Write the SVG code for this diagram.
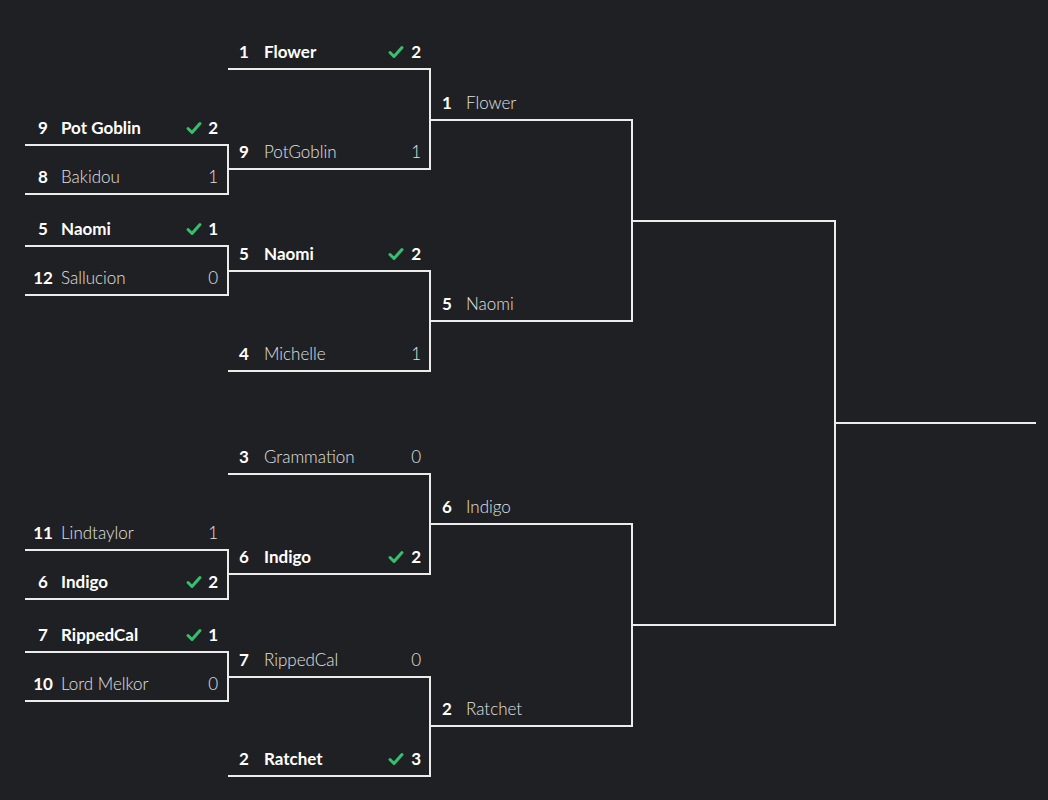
<svg xmlns="http://www.w3.org/2000/svg" width="1048" height="800" viewBox="0 0 1048 800">
<style>
.bg{fill:#1f2023}
.ln{fill:none;stroke:#ececec;stroke-width:2}
text{font-family:Lato,"Noto Sans","Liberation Sans",sans-serif;font-size:17px}
.sd{fill:#ffffff;font-weight:700;text-anchor:middle}
.w{fill:#ffffff;font-weight:700}
.l{fill:#e0e0e0;font-weight:300}
.sw{fill:#ffffff;font-weight:700;text-anchor:end}
.sl{fill:#e0e0e0;font-weight:300;text-anchor:end}
.ck{fill:none;stroke:#35c06f;stroke-width:3;stroke-linecap:round;stroke-linejoin:round}
</style>
<defs>
<path id="chk" class="ck" d="M0 0.5 L4 4.5 L12 -4.5"/>
</defs>
<rect class="bg" x="0" y="0" width="1048" height="800"/>
<g id="connectors">
<path class="ln" d="M25 145 H228 V194 H25"/>
<path class="ln" d="M25 246 H228 V295 H25"/>
<path class="ln" d="M25 550 H228 V599 H25"/>
<path class="ln" d="M25 652 H228 V701 H25"/>
<path class="ln" d="M228 69 H430 V169 H228"/>
<path class="ln" d="M228 271 H430 V371 H228"/>
<path class="ln" d="M228 474 H430 V574 H228"/>
<path class="ln" d="M228 677 H430 V776 H228"/>
<path class="ln" d="M430 120 H632 V321 H430"/>
<path class="ln" d="M430 524 H632 V726 H430"/>
<path class="ln" d="M632 221 H835 V625 H632"/>
<path class="ln" d="M835 423 H1036"/>
</g>
<g id="r1-potgoblin"><text class="sd" x="43" y="134">9</text><text class="w" x="61" y="134">Pot Goblin</text><use href="#chk" x="188" y="128"/><text class="sw" x="218" y="134">2</text></g>
<g id="r1-bakidou"><text class="sd" x="43" y="183">8</text><text class="l" x="61" y="183">Bakidou</text><text class="sl" x="218" y="183">1</text></g>
<g id="r1-naomi"><text class="sd" x="43" y="235">5</text><text class="w" x="61" y="235">Naomi</text><use href="#chk" x="188" y="229"/><text class="sw" x="218" y="235">1</text></g>
<g id="r1-sallucion"><text class="sd" x="43" y="284">12</text><text class="l" x="61" y="284">Sallucion</text><text class="sl" x="218" y="284">0</text></g>
<g id="r1-lindtaylor"><text class="sd" x="43" y="539">11</text><text class="l" x="61" y="539">Lindtaylor</text><text class="sl" x="218" y="539">1</text></g>
<g id="r1-indigo"><text class="sd" x="43" y="588">6</text><text class="w" x="61" y="588">Indigo</text><use href="#chk" x="188" y="582"/><text class="sw" x="218" y="588">2</text></g>
<g id="r1-rippedcal"><text class="sd" x="43" y="641">7</text><text class="w" x="61" y="641">RippedCal</text><use href="#chk" x="188" y="635"/><text class="sw" x="218" y="641">1</text></g>
<g id="r1-lordmelkor"><text class="sd" x="43" y="690">10</text><text class="l" x="61" y="690">Lord Melkor</text><text class="sl" x="218" y="690">0</text></g>
<g id="r2-flower"><text class="sd" x="244" y="58">1</text><text class="w" x="264" y="58">Flower</text><use href="#chk" x="390" y="52"/><text class="sw" x="421" y="58">2</text></g>
<g id="r2-potgoblin"><text class="sd" x="244" y="158">9</text><text class="l" x="264" y="158">PotGoblin</text><text class="sl" x="421" y="158">1</text></g>
<g id="r2-naomi"><text class="sd" x="244" y="260">5</text><text class="w" x="264" y="260">Naomi</text><use href="#chk" x="390" y="254"/><text class="sw" x="421" y="260">2</text></g>
<g id="r2-michelle"><text class="sd" x="244" y="360">4</text><text class="l" x="264" y="360">Michelle</text><text class="sl" x="421" y="360">1</text></g>
<g id="r2-grammation"><text class="sd" x="244" y="463">3</text><text class="l" x="264" y="463">Grammation</text><text class="sl" x="421" y="463">0</text></g>
<g id="r2-indigo"><text class="sd" x="244" y="563">6</text><text class="w" x="264" y="563">Indigo</text><use href="#chk" x="390" y="557"/><text class="sw" x="421" y="563">2</text></g>
<g id="r2-rippedcal"><text class="sd" x="244" y="666">7</text><text class="l" x="264" y="666">RippedCal</text><text class="sl" x="421" y="666">0</text></g>
<g id="r2-ratchet"><text class="sd" x="244" y="765">2</text><text class="w" x="264" y="765">Ratchet</text><use href="#chk" x="390" y="759"/><text class="sw" x="421" y="765">3</text></g>
<g id="r3-flower"><text class="sd" x="447" y="109">1</text><text class="l" x="466" y="109">Flower</text></g>
<g id="r3-naomi"><text class="sd" x="447" y="310">5</text><text class="l" x="466" y="310">Naomi</text></g>
<g id="r3-indigo"><text class="sd" x="447" y="513">6</text><text class="l" x="466" y="513">Indigo</text></g>
<g id="r3-ratchet"><text class="sd" x="447" y="715">2</text><text class="l" x="466" y="715">Ratchet</text></g>
</svg>
